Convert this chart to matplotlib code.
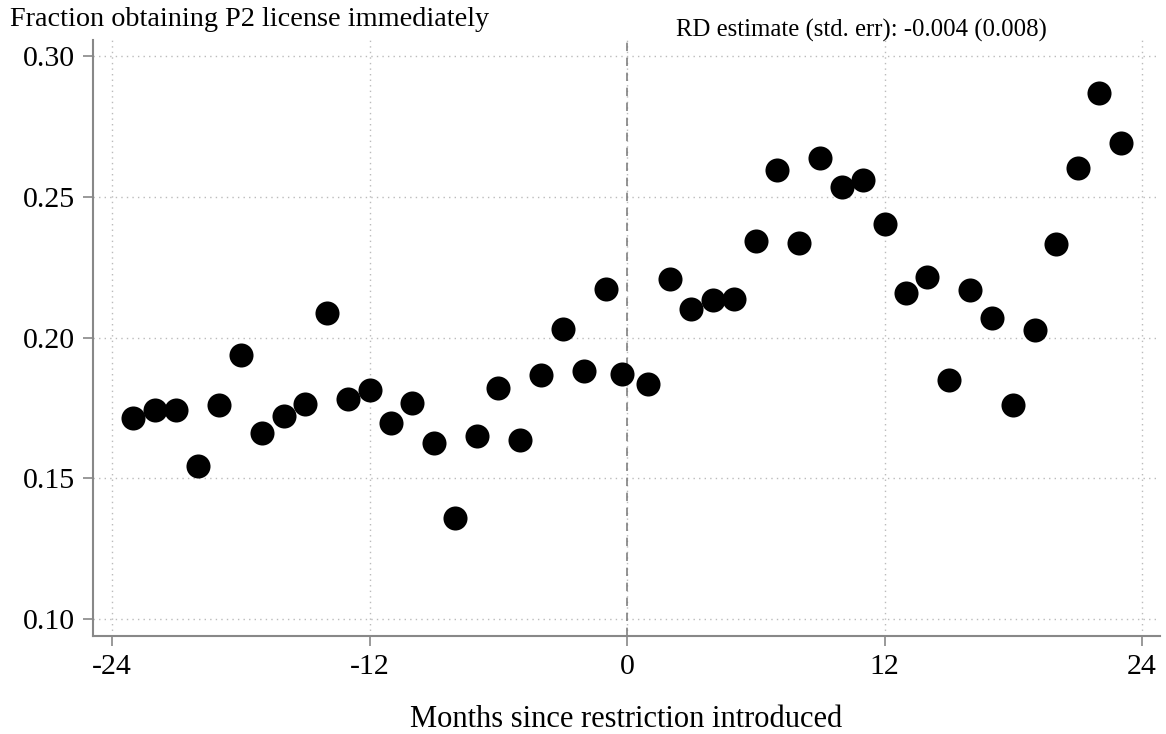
import matplotlib.pyplot as plt
import numpy as np

plt.rcParams['font.family'] = ['Liberation Serif', 'DejaVu Serif']
plt.rcParams['axes.unicode_minus'] = False

# monthly means, months relative to the restriction
months = [-23, -22, -21, -20, -19, -18, -17, -16, -15, -14, -13, -12, -11, -10,
          -9, -8, -7, -6, -5, -4, -3, -2, -1, -0.25, 1, 2, 3, 4, 5, 6, 7, 8, 9,
          10, 11, 12, 13, 14, 15, 16, 17, 18, 19, 20, 21, 22, 23]
frac = [0.1714, 0.1742, 0.1742, 0.1544, 0.1760, 0.1938, 0.1661, 0.1721, 0.1764,
        0.2087, 0.1782, 0.1813, 0.1696, 0.1767, 0.1625, 0.1359, 0.1650, 0.1821,
        0.1636, 0.1867, 0.2030, 0.1881, 0.2172, 0.1870, 0.1835, 0.2208, 0.2101,
        0.2133, 0.2137, 0.2343, 0.2595, 0.2336, 0.2638, 0.2535, 0.2560, 0.2403,
        0.2158, 0.2215, 0.1849, 0.2169, 0.2069, 0.1760, 0.2027, 0.2332, 0.2602,
        0.2869, 0.2691]

xticks = [-24, -12, 0, 12, 24]
yticks = [0.10, 0.15, 0.20, 0.25, 0.30]

fig = plt.figure(figsize=(11.66, 7.34), dpi=100)
ax = fig.add_axes([0.0798, 0.1335, 0.9151, 0.812])

ax.scatter(months, frac, s=300, color='black', zorder=3, linewidths=0)
ax.axvline(0, color='#808080', linestyle=(0, (5, 4)), linewidth=1.2, zorder=2)

ax.set_xlim(-24.885, 24.84)
ax.set_ylim(0.094, 0.3057)
ax.set_xticks(xticks)
ax.set_yticks(yticks)
ax.set_yticklabels([f'{v:.2f}' for v in yticks])
ax.grid(True, color='#bbbbbb', linestyle=(0, (1, 3)), linewidth=1)

for s in ['top', 'right']:
    ax.spines[s].set_visible(False)
for s in ['left', 'bottom']:
    ax.spines[s].set_color('#888888')
    ax.spines[s].set_linewidth(1.5)
ax.tick_params(colors='#888888', labelcolor='black', length=7, width=1.2,
               labelsize=21.5, pad=6)

ax.set_xlabel('Months since restriction introduced', fontsize=22, labelpad=18)
fig.text(0.0086, 0.973, 'Fraction obtaining P2 license immediately',
         fontsize=20.3, va='center', ha='left')
fig.text(0.7384, 0.958, 'RD estimate (std. err): -0.004 (0.008)',
         fontsize=17.8, va='center', ha='center')

fig.savefig('out.png', dpi=100)
